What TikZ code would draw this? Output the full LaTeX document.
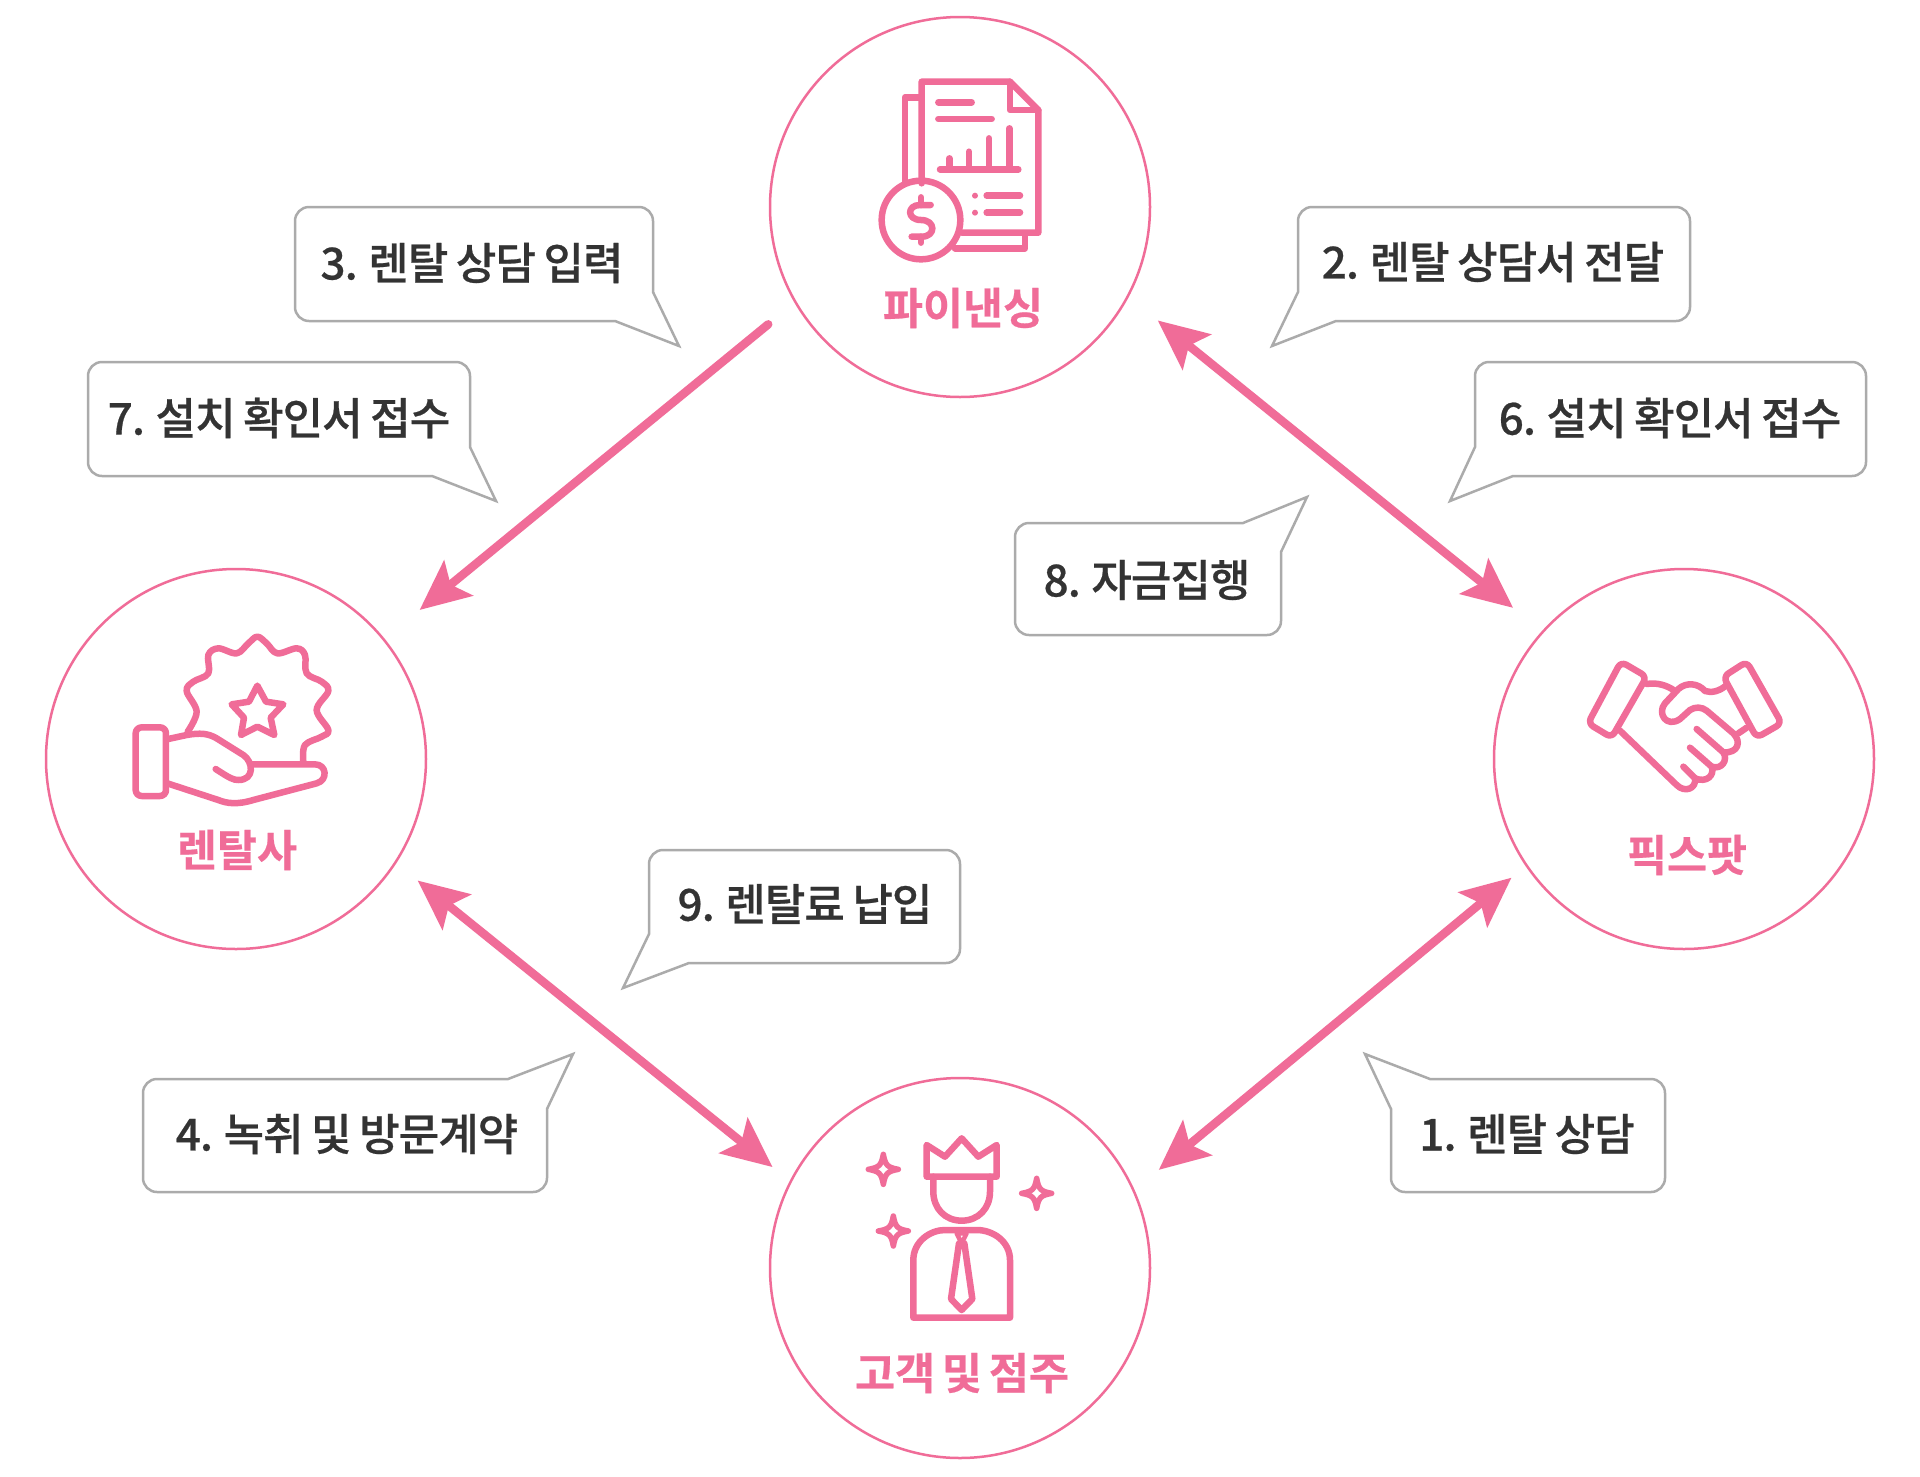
\documentclass[tikz,border=0pt]{standalone}
\usepackage{fontspec}
\usetikzlibrary{arrows.meta,shapes.geometric}
\newfontfamily\kom[WordSpace=0.85,LetterSpace=-2.2,FakeBold=0.5]{Noto Sans CJK KR Medium}
\newfontfamily\kob[WordSpace=0.7,FakeBold=0.5]{Noto Sans CJK KR Bold}
\definecolor{pk}{HTML}{F06C98}
\definecolor{gy}{HTML}{ABABAB}
\definecolor{tx}{HTML}{333333}
\tikzset{
  party/.style={circle,draw=pk,line width=2.5pt,fill=white,minimum size=380pt,inner sep=0pt,outer sep=0pt},
  partyname/.style={text=pk,font=\kob\fontsize{43.5}{48}\selectfont,inner sep=0pt},
  flow/.style={draw=pk,line width=8.5pt,line cap=round},
  tip/.tip={Stealth[length=50pt,width=45pt,inset=10pt]},
  bubble/.style={draw=gy,line width=2.5pt,fill=white,rounded corners=14pt},
  bubbletext/.style={text=tx,font=\kom\fontsize{44}{50}\selectfont,inner sep=0pt},
  ico/.style={draw=pk,line width=6.5pt,line cap=round,line join=round},
}
\newcommand{\spark}[2]{\draw[ico,line width=5.5pt] (#1,#2-45) .. controls (#1+6,#2-12) and (#1+12,#2-6) .. (#1+45,#2) .. controls (#1+12,#2+6) and (#1+6,#2+12) .. (#1,#2+45) .. controls (#1-6,#2+12) and (#1-12,#2+6) .. (#1-45,#2) .. controls (#1-12,#2-6) and (#1-6,#2-12) .. cycle;}
\begin{document}
\begin{tikzpicture}[x=1pt,y=-1pt]
\useasboundingbox (0,0) rectangle (1920,1476);
\fill[white] (0,0) rectangle (1920,1476);
% parties
\node[party] (fin) at (960,207) {};
\node[party] (rent) at (236,759) {};
\node[party] (fix) at (1684,759) {};
\node[party] (cust) at (960,1268) {};
\node[partyname] (finL) at (963,308) {파이낸싱};
\node[partyname] (rentL) at (237,850) {렌탈사};
\node[partyname] (fixL) at (1687,855) {픽스팟};
\node[partyname] (custL) at (962,1373) {고객 및 점주};
% arrows
\draw[flow,-{tip},shorten <=35.2pt,shorten >=46.5pt] (fin.210.1) -- (rent.39.8);
\draw[flow,{tip}-{tip},shorten <=38.6pt,shorten >=38.2pt] (fin.332.2) -- (fix.138.1);
\draw[flow,{tip}-{tip},shorten <=28.7pt,shorten >=23.4pt] (rent.327.2) -- (cust.153.4);
\draw[flow,{tip}-{tip},shorten <=32.7pt,shorten >=19.5pt] (cust.24.7) -- (fix.214.9);
% bubbles
\draw[bubble] (474,207) -- (653,207) [sharp corners] -- (653,292) -- (679,346) -- (615,321) [rounded corners=14pt] -- (295,321) -- (295,207) -- cycle;
\draw[bubble] (1494,207) -- (1690,207) -- (1690,321) [sharp corners] -- (1336,321) -- (1272,346) -- (1298,292) [rounded corners=14pt] -- (1298,207) -- cycle;
\draw[bubble] (1670,362) -- (1866,362) -- (1866,476) [sharp corners] -- (1513,476) -- (1450,501) -- (1475,447) [rounded corners=14pt] -- (1475,362) -- cycle;
\draw[bubble] (279,362) -- (470,362) [sharp corners] -- (470,447) -- (496,501) -- (432,476) [rounded corners=14pt] -- (88,476) -- (88,362) -- cycle;
\draw[bubble] (1148,523) [sharp corners] -- (1243,523) -- (1307,497) -- (1281,552) [rounded corners=14pt] -- (1281,635) -- (1015,635) -- (1015,523) -- cycle;
\draw[bubble] (805,850) -- (960,850) -- (960,963) [sharp corners] -- (689,963) -- (623,988) -- (649,934) [rounded corners=14pt] -- (649,850) -- cycle;
\draw[bubble] (345,1079) [sharp corners] -- (508,1079) -- (573,1054) -- (547,1109) [rounded corners=14pt] -- (547,1192) -- (143,1192) -- (143,1079) -- cycle;
\draw[bubble] (1528,1079) -- (1665,1079) -- (1665,1192) -- (1391,1192) [sharp corners] -- (1391,1109) -- (1365,1054) -- (1430,1079) -- cycle;
\node[bubbletext] (b3) at (472,263) {3. 렌탈 상담 입력};
\node[bubbletext] (b2) at (1493,262) {2. 렌탈 상담서 전달};
\node[bubbletext] (b6) at (1670,418) {6. 설치 확인서 접수};
\node[bubbletext] (b7) at (279,418) {7. 설치 확인서 접수};
\node[bubbletext] (b8) at (1147,580) {8. 자금집행};
\node[bubbletext] (b9) at (805,904) {9. 렌탈료 납입};
\node[bubbletext] (b4) at (347,1134) {4. 녹취 및 방문계약};
\node[bubbletext] (b1) at (1527,1134) {1. 렌탈 상담};
% icon: finance
\begin{scope}[shift={(760,10)},x=0.33333pt,y=-0.33333pt]
\draw[ico] (480,262) -- (435,262) -- (435,520);
\draw[ico] (795,675) -- (795,715) -- (585,715);
\draw[ico] (485,520) -- (485,215) -- (750,215) -- (835,300) -- (835,668) -- (605,668);
\draw[ico] (750,215) -- (750,300) -- (835,300);
\draw[ico] (535,277) -- (635,277);
\draw[ico] (535,327) -- (695,327);
\draw[ico] (540,478) -- (775,478);
\draw[ico] (568,445) -- (568,478);
\draw[ico] (627,425) -- (627,478);
\draw[ico] (687,385) -- (687,478);
\draw[ico] (748,355) -- (748,478);
\fill[pk] (645,557) circle[radius=9];
\fill[pk] (645,608) circle[radius=9];
\draw[ico] (680,557) -- (780,557);
\draw[ico] (680,608) -- (780,608);
\draw[ico] (483,630) circle[radius=118];
\draw[ico] (512,585) -- (480,585) .. controls (440,585) and (440,630) .. (483,630) .. controls (528,630) and (528,680) .. (485,680) -- (455,680);
\draw[ico] (483,562) -- (483,585);
\draw[ico] (483,680) -- (483,698);
\end{scope}
% icon: rental company
\begin{scope}[shift={(40,565)},x=0.33333pt,y=-0.33333pt]
\draw[ico] plot[smooth,tension=.6] coordinates {(443,500)(470,440)(440,378)(460,350)(505,325)(505,270)(535,250)(590,265)(625,235)(652,215)(680,235)(712,265)(770,250)(795,270)(800,325)(845,350)(865,378)(830,435)(865,495)(845,515)(795,540)(790,590)};
\draw[ico] (652,362) -- (678,410) -- (730,418) -- (692,458) -- (703,510) -- (652,485) -- (603,510) -- (612,458) -- (575,418) -- (627,410) -- cycle;
\draw[ico,rounded corners=6pt] (287,487) rectangle (378,693);
\draw[ico] (380,523) -- (440,510) .. controls (480,503) and (505,505) .. (530,520) -- (610,570) .. controls (640,590) and (645,645) .. (595,645) .. controls (580,645) and (570,640) .. (527,612);
\draw[ico] (635,598) -- (825,598) .. controls (860,598) and (865,645) .. (830,655) -- (640,705) .. controls (590,720) and (560,715) .. (535,705) -- (382,655);
\end{scope}
% icon: handshake
\begin{scope}[shift={(1490,565)},x=0.33333pt,y=-0.33333pt]
\draw[ico,rounded corners=6pt] (393,290) -- (470,335) -- (365,518) -- (294,475) -- cycle;
\draw[ico,rounded corners=6pt] (770,290) -- (700,335) -- (800,518) -- (875,475) -- cycle;
\draw[ico] (470,357) .. controls (500,352) and (530,360) .. (555,378);
\draw[ico] (710,360) .. controls (690,378) and (665,385) .. (645,378) .. controls (625,355) and (590,350) .. (565,372) -- (525,415) .. controls (500,445) and (530,490) .. (570,462) -- (600,435) .. controls (615,425) and (635,425) .. (650,437) -- (730,505) .. controls (755,530) and (745,565) .. (700,562) .. controls (715,585) and (695,615) .. (665,605) .. controls (675,630) and (650,655) .. (615,640) .. controls (620,670) and (585,685) .. (560,660) -- (390,497);
\draw[ico] (620,492) -- (700,562);
\draw[ico] (600,548) -- (665,605);
\draw[ico] (580,605) -- (615,640);
\draw[ico] (745,505) -- (770,488);
\end{scope}
% icon: customer
\begin{scope}[shift={(760,1075)},x=0.33333pt,y=-0.33333pt]
\draw[ico] (500,305) -- (500,210) -- (555,245) -- (605,190) -- (655,245) -- (710,210) -- (710,305) -- cycle;
\draw[ico] (520,305) -- (520,350) .. controls (520,400) and (555,437) .. (605,437) .. controls (655,437) and (690,400) .. (690,350) -- (690,305);
\draw[ico] (460,728) -- (460,555) .. controls (460,500) and (510,465) .. (555,465) -- (650,465) .. controls (700,465) and (750,500) .. (750,555) -- (750,728) -- cycle;
\draw[ico,line width=4.5pt] (590,475) -- (620,475) -- (605,505) -- cycle;
\draw[ico] (597,505) -- (573,672) -- (605,705) -- (637,672) -- (613,505);
\spark{370}{283}
\spark{830}{355}
\spark{400}{468}
\end{scope}
\end{tikzpicture}
\end{document}
